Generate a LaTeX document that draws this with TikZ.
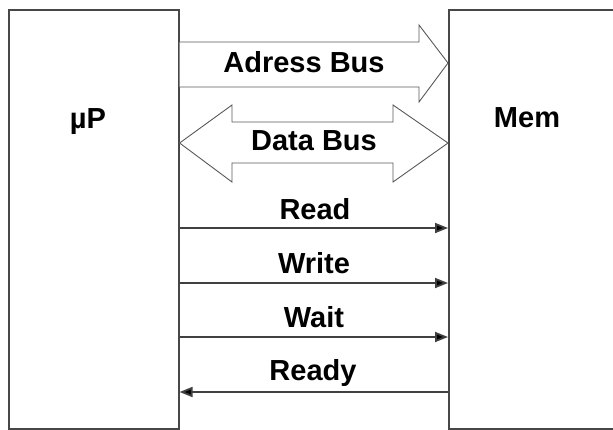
\documentclass[tikz,border=0pt]{standalone}
\usepackage{fontspec}
\setmainfont{Liberation Sans}
\usetikzlibrary{arrows.meta}
\begin{document}
\begin{tikzpicture}[x=1pt,y=-1pt,
  box/.style={draw=black!72, line width=1.6pt, fill=white, anchor=north west, inner sep=0pt},
  lbl/.style={font=\fontsize{29}{29}\selectfont\bfseries, inner sep=0pt},
  sig/.style={draw=black!75, line width=1.8pt, -{Triangle[length=13pt,width=10pt,fill=black]}},
  bus/.style={draw=black!65, line width=0.9pt, fill=white, line join=miter}]
\useasboundingbox (0,0) rectangle (613,429);
\clip (0,0) rectangle (613,429);
\fill[white] (0,0) rectangle (613,429);
\node[box, minimum width=170pt, minimum height=419pt] (up) at (8,9) {};
\node[box, minimum width=200pt, minimum height=419pt] (mem) at (448,9) {};
\node[lbl] (uplbl) at (88,122) {µP};
\node[lbl] (memlbl) at (527,118) {Mem};
% Address bus (single block arrow)
\draw[bus] (up.north east |- 0,42) -- (419,42) -- (419,25) -- (mem.north west |- 0,63)
  -- (419,102) -- (419,87) -- (up.north east |- 0,87);
\node[lbl] (adr) at (304,62) {Adress Bus};
% Data bus (double block arrow)
\draw[bus] (up.north east |- 0,143) -- (232,105) -- (232,122) -- (393,122) -- (393,105)
  -- (mem.north west |- 0,143) -- (393,182) -- (393,163) -- (232,163) -- (232,182) -- cycle;
\node[lbl] (data) at (314,141) {Data Bus};
% control signals
\coordinate (r1) at (up.north east |- 0,228);
\coordinate (r2) at (mem.north west |- 0,228);
\coordinate (w1) at (up.north east |- 0,283);
\coordinate (w2) at (mem.north west |- 0,283);
\coordinate (t1) at (up.north east |- 0,337);
\coordinate (t2) at (mem.north west |- 0,337);
\coordinate (y1) at (up.north east |- 0,392);
\coordinate (y2) at (mem.north west |- 0,392);
\draw[sig] (r1) -- (r2);
\draw[sig] (w1) -- (w2);
\draw[sig] (t1) -- (t2);
\draw[sig] (y2) -- (y1);
\node[lbl, anchor=base] (read) at (315,219) {Read};
\node[lbl, anchor=base] (write) at (314,273) {Write};
\node[lbl, anchor=base] (wait) at (314,327) {Wait};
\node[lbl, anchor=base] (ready) at (313,380) {Ready};
\end{tikzpicture}
\end{document}
